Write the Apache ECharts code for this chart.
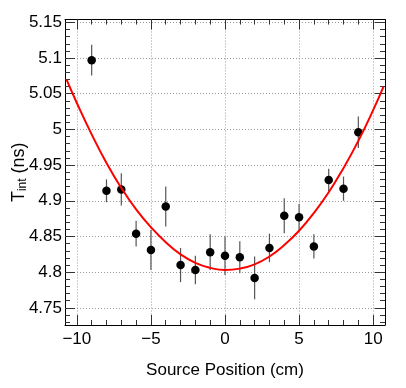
<!DOCTYPE html>
<html>
<head>
<meta charset="utf-8">
<script src="https://cdn.jsdelivr.net/npm/echarts@6/dist/echarts.min.js"></script>
<style>
  html, body { margin: 0; padding: 0; background: #fff; }
  #chart { width: 406px; height: 388px; }
</style>
</head>
<body>
<div id="chart"></div>
<script>
// measured points (source position in cm, integration time in ns)
const positions = [-9, -8, -7, -6, -5, -4, -3, -2, -1, 0, 1, 2, 3, 4, 5, 6, 7, 8, 9]
const tint = [5.097, 4.914, 4.916, 4.854, 4.831, 4.892, 4.810, 4.803, 4.828, 4.823,
  4.821, 4.792, 4.834, 4.879, 4.877, 4.836, 4.929, 4.917, 4.996]
const tintErr = [0.0215, 0.016, 0.0225, 0.018, 0.028, 0.028, 0.024, 0.020, 0.025, 0.027,
  0.0225, 0.030, 0.020, 0.0245, 0.0185, 0.017, 0.016, 0.017, 0.022]

// red fit curve
const fitX = [-10.7, -10, -9, -8, -7, -6, -5, -4, -3, -2, -1, 0, 1, 2, 3, 4, 5, 6, 7, 8, 9, 10, 10.7]
const fitY = [5.070, 5.037, 4.993, 4.953, 4.918, 4.888, 4.863, 4.842, 4.825, 4.813, 4.806, 4.803,
  4.805, 4.811, 4.822, 4.838, 4.858, 4.883, 4.912, 4.946, 4.984, 5.027, 5.060]

// axis ticks
const xTicks = [-10, -5, 0, 5, 10]
const yTicks = [4.75, 4.8, 4.85, 4.9, 4.95, 5, 5.05, 5.1, 5.15]
const xMinor = []
for (let v = -10; v <= 10; v++) xMinor.push(v)
const yMinor = []
for (let k = 473; k <= 515; k++) yMinor.push(k / 100)

const X_MIN = -10.8, X_MAX = 10.8
const Y_MIN = 4.726, Y_MAX = 5.154
const FONT = 'Liberation Sans'

const chart = echarts.init(document.getElementById('chart'))

const gridLine = { show: true, lineStyle: { color: '#9a9a9a', type: [1, 2], width: 1 } }

// builds one x or y axis; major ones carry labels and grid, minor ones just short ticks
const makeAxis = (pos, min, max, ticks, len, opts = {}) => ({
  type: 'value',
  position: pos,
  min, max,
  axisLine: { show: !!opts.line, onZero: false, lineStyle: { color: '#000', width: 1 } },
  axisTick: { show: true, inside: true, length: len, customValues: ticks, lineStyle: { color: '#333', width: 1 } },
  axisLabel: opts.label ? opts.label : { show: false },
  splitLine: opts.grid ? gridLine : { show: false },
  name: opts.name || '',
  nameLocation: 'middle',
  nameGap: opts.nameGap || 0,
  nameMoveOverlap: false,
  nameTextStyle: opts.nameTextStyle || {},
  nameRotate: opts.nameRotate,
})

const option = {
  animation: false,
  backgroundColor: '#fff',
  grid: { left: 65, right: 21, top: 19.5, bottom: 63, containLabel: false, outerBoundsMode: 'none' },
  xAxis: [
    makeAxis('bottom', X_MIN, X_MAX, xTicks, 10, {
      line: true, grid: true,
      label: {
        show: true, customValues: xTicks, margin: 6,
        color: '#000', fontFamily: FONT, fontSize: 17,
        formatter: (v) => (v < 0 ? '\u2212' + Math.abs(v) : String(v)),
      },
      name: 'Source Position (cm)', nameGap: 37,
      nameTextStyle: { color: '#000', fontFamily: FONT, fontSize: 17 },
    }),
    makeAxis('bottom', X_MIN, X_MAX, xMinor, 5),
    makeAxis('top', X_MIN, X_MAX, xTicks, 10, { line: true }),
    makeAxis('top', X_MIN, X_MAX, xMinor, 5),
  ],
  yAxis: [
    makeAxis('left', Y_MIN, Y_MAX, yTicks, 10, {
      line: true, grid: true,
      label: {
        show: true, customValues: yTicks, margin: 3,
        color: '#000', fontFamily: FONT, fontSize: 17,
        formatter: (v) => String(v),
      },
      name: '{t|T}{s|int}{t| (ns)}', nameGap: 36, nameRotate: 90,
      nameTextStyle: {
        color: '#000', fontFamily: FONT,
        rich: {
          t: { fontFamily: FONT, fontSize: 18, color: '#000' },
          s: { fontFamily: FONT, fontSize: 12, color: '#000', padding: [8, 0, 0, 0] },
        },
      },
    }),
    makeAxis('left', Y_MIN, Y_MAX, yMinor, 5),
    makeAxis('right', Y_MIN, Y_MAX, yTicks, 10, { line: true }),
    makeAxis('right', Y_MIN, Y_MAX, yMinor, 5),
  ],
  series: [
    {
      name: 'errors',
      type: 'custom',
      xAxisIndex: 0, yAxisIndex: 0,
      data: positions.map((x, i) => [x, tint[i], tintErr[i]]),
      renderItem: (params, api) => {
        const x = api.value(0), y = api.value(1), e = api.value(2)
        const p1 = api.coord([x, y - e])
        const p2 = api.coord([x, y + e])
        return {
          type: 'line',
          shape: { x1: p1[0], y1: p1[1], x2: p2[0], y2: p2[1] },
          style: { stroke: '#555', lineWidth: 1.2 },
        }
      },
      z: 3,
    },
    {
      name: 'points',
      type: 'scatter',
      xAxisIndex: 0, yAxisIndex: 0,
      data: positions.map((x, i) => [x, tint[i]]),
      symbol: 'circle',
      symbolSize: 8.5,
      itemStyle: { color: '#000', opacity: 1 },
      z: 4,
    },
    {
      name: 'fit',
      type: 'line',
      xAxisIndex: 0, yAxisIndex: 0,
      data: fitX.map((x, i) => [x, fitY[i]]),
      smooth: true,
      showSymbol: false,
      lineStyle: { color: '#ff0000', width: 2 },
      z: 5,
    },
  ],
}

chart.setOption(option)
</script>
</body>
</html>
